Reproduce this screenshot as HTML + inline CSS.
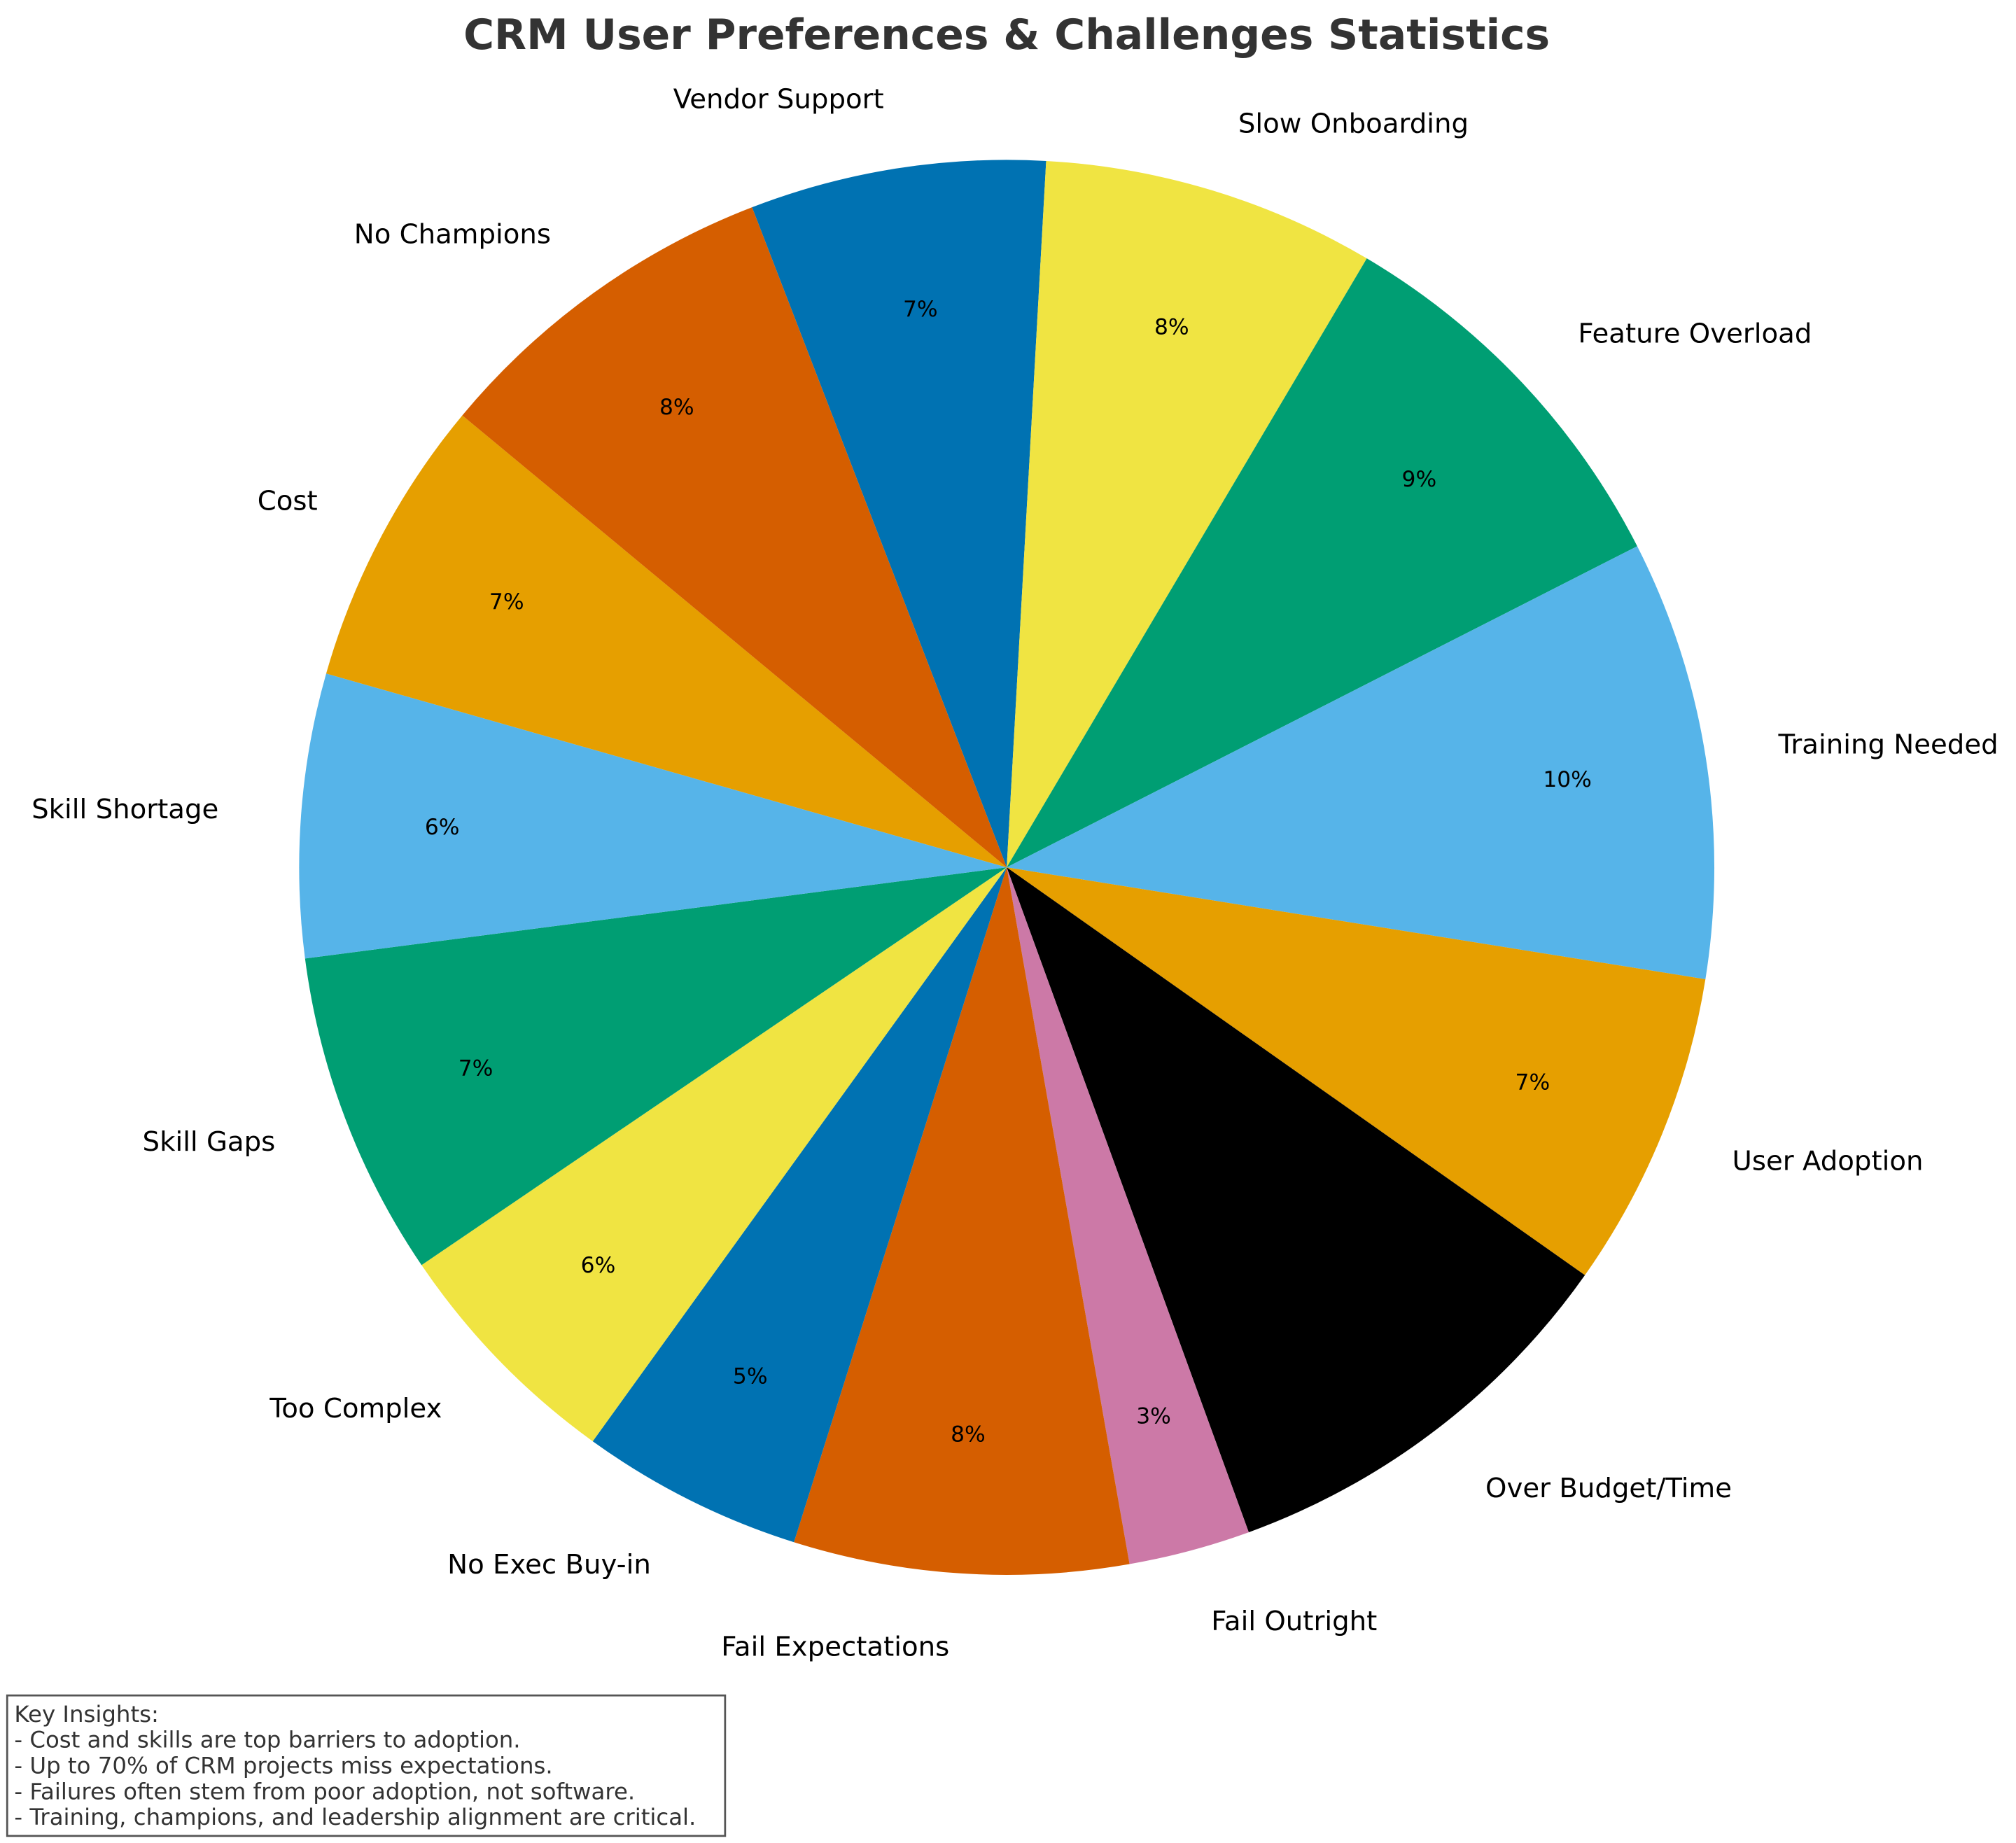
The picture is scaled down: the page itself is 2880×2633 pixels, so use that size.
<!DOCTYPE html>
<html><head><meta charset="utf-8"><style>html,body{margin:0;padding:0;background:#fff}svg{display:block}text{font-family:"DejaVu Sans","Liberation Sans",sans-serif}</style></head><body>
<svg width="2880" height="2633" viewBox="0 0 1564 1430" xmlns="http://www.w3.org/2000/svg">
<rect width="1564" height="1430" fill="#fff"/>
<text x="781" y="38" font-size="32.5" font-weight="bold" fill="#333" text-anchor="middle">CRM User Preferences &amp; Challenges Statistics</text>
<g>
<path d="M781 673 L583.4 160.8 A549 549 0 0 1 811.6 124.9 Z" fill="#0072B2"/>
<path d="M781 673 L811.6 124.9 A549 549 0 0 1 1060.4 200.5 Z" fill="#F0E442"/>
<path d="M781 673 L1060.4 200.5 A549 549 0 0 1 1270.2 423.8 Z" fill="#009E73"/>
<path d="M781 673 L1270.2 423.8 A549 549 0 0 1 1323.1 759.8 Z" fill="#56B4E9"/>
<path d="M781 673 L1323.1 759.8 A549 549 0 0 1 1229.6 989.4 Z" fill="#E69F00"/>
<path d="M781 673 L1229.6 989.4 A549 549 0 0 1 968.8 1188.9 Z" fill="#000000"/>
<path d="M781 673 L968.8 1188.9 A549 549 0 0 1 876.3 1213.6 Z" fill="#CC79A7"/>
<path d="M781 673 L876.3 1213.6 A549 549 0 0 1 615.9 1196.6 Z" fill="#D55E00"/>
<path d="M781 673 L615.9 1196.6 A549 549 0 0 1 459.8 1118.3 Z" fill="#0072B2"/>
<path d="M781 673 L459.8 1118.3 A549 549 0 0 1 327.0 981.6 Z" fill="#F0E442"/>
<path d="M781 673 L327.0 981.6 A549 549 0 0 1 236.6 743.7 Z" fill="#009E73"/>
<path d="M781 673 L236.6 743.7 A549 549 0 0 1 253.0 522.6 Z" fill="#56B4E9"/>
<path d="M781 673 L253.0 522.6 A549 549 0 0 1 358.6 322.3 Z" fill="#E69F00"/>
<path d="M781 673 L358.6 322.3 A549 549 0 0 1 583.4 160.8 Z" fill="#D55E00"/>
</g>
<g font-size="21" fill="#000" text-anchor="middle" dominant-baseline="central">
<text x="604" y="77">Vendor Support</text>
<text x="1050" y="96">Slow Onboarding</text>
<text x="1315" y="259">Feature Overload</text>
<text x="1465" y="578">Training Needed</text>
<text x="1418" y="901">User Adoption</text>
<text x="1248" y="1155">Over Budget/Time</text>
<text x="1004" y="1258">Fail Outright</text>
<text x="648" y="1278">Fail Expectations</text>
<text x="426" y="1214">No Exec Buy-in</text>
<text x="276" y="1093">Too Complex</text>
<text x="162" y="886">Skill Gaps</text>
<text x="97" y="628">Skill Shortage</text>
<text x="223" y="389">Cost</text>
<text x="351" y="182">No Champions</text>
</g>
<g font-size="17" fill="#000" text-anchor="middle" dominant-baseline="central">
<text x="714" y="240">7%</text>
<text x="909" y="254">8%</text>
<text x="1101" y="372">9%</text>
<text x="1216" y="605">10%</text>
<text x="1189" y="840">7%</text>
<text x="895" y="1099">3%</text>
<text x="751" y="1113">8%</text>
<text x="582" y="1068">5%</text>
<text x="464" y="982">6%</text>
<text x="369" y="829">7%</text>
<text x="343" y="642">6%</text>
<text x="393" y="467">7%</text>
<text x="525" y="316">8%</text>
</g>
<rect x="5.5" y="1315.5" width="557" height="109" fill="#fff" stroke="#555" stroke-width="1.5"/>
<g font-size="17.6" fill="#333">
<text x="11" y="1336">Key Insights:</text>
<text x="11" y="1356">- Cost and skills are top barriers to adoption.</text>
<text x="11" y="1376">- Up to 70% of CRM projects miss expectations.</text>
<text x="11" y="1396">- Failures often stem from poor adoption, not software.</text>
<text x="11" y="1416">- Training, champions, and leadership alignment are critical.</text>
</g>
</svg>
</body></html>
